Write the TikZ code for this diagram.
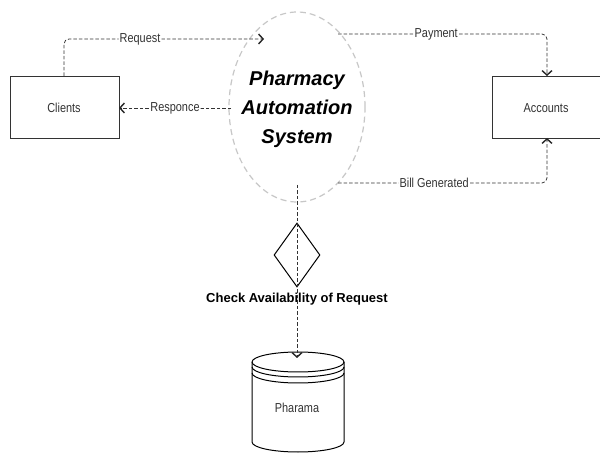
\documentclass[tikz,border=0pt]{standalone}
\usepackage{fontspec}
\setmainfont{Liberation Sans}
\usetikzlibrary{arrows.meta,shapes.geometric}
\newcommand{\narrowtxt}[1]{\scalebox{0.84}[1]{#1}}
\begin{document}
\begin{tikzpicture}[x=1pt,y=-1pt,
  flow/.style={draw=black!80,line width=0.75pt,dash pattern=on 3.5pt off 2pt,rounded corners=5pt},
  tip/.style={-{Straight Barb[length=4.5pt,width=10pt,line width=1.4pt,color=black!85]}},
  lbl/.style={fill=white,inner sep=1pt,font=\fontsize{13}{14}\selectfont,text=black!80},
  entity/.style={draw=black!80,line width=0.8pt,rectangle,inner sep=0pt},
  etext/.style={font=\fontsize{13}{14}\selectfont,text=black!80}]
\useasboundingbox (0,0) rectangle (600,454);
\fill[white] (0,0) rectangle (600,454);
% system ellipse
\node[draw=black!22,line width=1.2pt,dash pattern=on 6pt off 4pt,ellipse,minimum width=136pt,minimum height=190pt,inner sep=0pt] (sys) at (297,107) {};
\node[font=\fontsize{20}{29}\selectfont\bfseries\itshape,align=center] (systext) at (297,109) {Pharmacy\\Automation\\System};
% entities
\node[entity,minimum width=109pt,minimum height=62pt] (cli) at (64.5,107) {};
\node[etext] (clit) at (64,108) {\narrowtxt{Clients}};
\node[entity,minimum width=108pt,minimum height=62pt] (acc) at (546.5,107) {};
\node[etext] (acct) at (546,108) {\narrowtxt{Accounts}};
% coordinates
\coordinate (reqs) at (64,76);
\coordinate (reqc) at (64,39);
\coordinate (reqe) at (264,39);
\coordinate (ress) at (231,108);
\coordinate (rese) at (119,108);
\coordinate (pays) at (338,34);
\coordinate (payc) at (547,34);
\coordinate (paye) at (547,76);
\coordinate (bils) at (338,183);
\coordinate (bilc) at (547,183);
\coordinate (bile) at (547,138);
\coordinate (vs) at (297,185);
\coordinate (ve) at (297,358);
% diamond
\node[draw=black,line width=1pt,diamond,minimum width=46pt,minimum height=64pt,inner sep=0pt] (dia) at (297,255) {};
\node[font=\fontsize{13}{14}\selectfont\bfseries,inner sep=1pt] (chk) at (297,299) {Check Availability of Request};
% cylinder
\draw[line width=1pt,fill=white] (252,362) -- (252,442) arc[start angle=180,end angle=360,x radius=46pt,y radius=10pt] -- (344,362) arc[start angle=0,end angle=180,x radius=46pt,y radius=10pt] -- cycle;
\draw[line width=1pt] (252,362) arc[start angle=180,end angle=360,x radius=46pt,y radius=10pt];
\draw[line width=1pt] (252,367) arc[start angle=180,end angle=360,x radius=46pt,y radius=10pt];
\draw[line width=1pt] (252,373) arc[start angle=180,end angle=360,x radius=46pt,y radius=10pt];
\node[etext] (db) at (297,408) {\narrowtxt{Pharama}};
% flows
\draw[flow,tip] (reqs) -- (reqc) -- node[lbl,pos=0.38]{\narrowtxt{Request}} (reqe);
\draw[flow,tip] (ress) -- node[lbl,pos=0.5]{\narrowtxt{Responce}} (rese);
\draw[flow,tip] (pays) -- node[lbl,pos=0.47]{\narrowtxt{Payment}} (payc) -- (paye);
\draw[flow,tip] (bils) -- node[lbl,pos=0.46]{\narrowtxt{Bill Generated}} (bilc) -- (bile);
\draw[draw=black!80,line width=0.75pt,dash pattern=on 3.5pt off 2pt,tip] (vs) -- (ve);
\end{tikzpicture}
\end{document}
